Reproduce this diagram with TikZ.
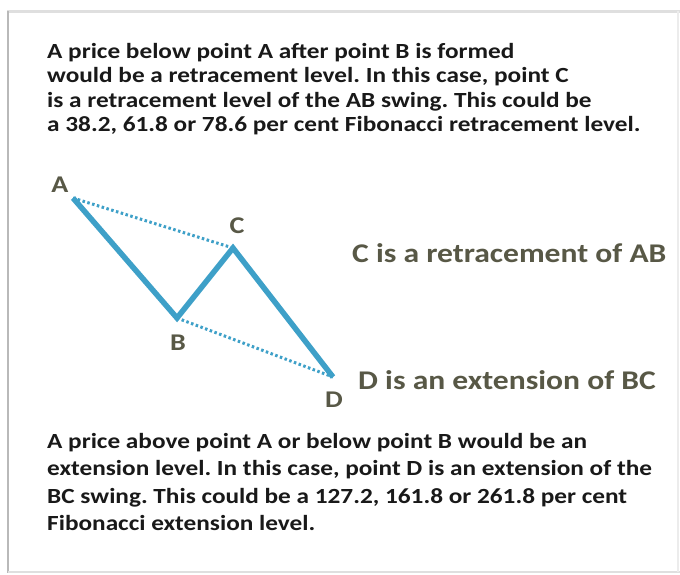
\documentclass[tikz,border=0pt]{standalone}
\usepackage{fontspec}
\setmainfont{Carlito}[FakeStretch=1.17]
\frenchspacing
\definecolor{swing}{RGB}{62,160,200}
\definecolor{olive}{RGB}{88,88,70}
\definecolor{ink}{RGB}{25,25,25}
\tikzset{
  para/.style={anchor=base west, inner sep=0pt, text=ink, font=\bfseries\fontsize{21.6}{24.5}\selectfont},
  para2/.style={para, font=\bfseries\fontsize{21.6}{27.5}\selectfont},
  ptlabel/.style={inner sep=0pt, text=olive, font=\bfseries\fontsize{24}{26}\selectfont},
  note/.style={anchor=base west, inner sep=0pt, text=olive, font=\bfseries\fontsize{27}{30}\selectfont},
  swingline/.style={draw=swing, line width=5.5pt, line join=miter},
  dotline/.style={draw=swing, line width=3pt, dash pattern=on 2.5pt off 2.5pt}
}
\begin{document}
\begin{tikzpicture}[x=1pt,y=-1pt]
\useasboundingbox (0,0) rectangle (680,574);
\fill[white] (0,0) rectangle (680,574);
% frame
\draw[gray!25, line width=3pt] (7,11) -- (680,11);
\draw[gray!55, line width=2pt] (8,11) -- (8,573);
\draw[gray!25, line width=2pt] (8,572) -- (680,572);
\draw[gray!15, line width=2pt] (678,11) -- (678,572);

\node[para] (top) at (47,58) {\begin{tabular}[t]{@{}l@{}}A price below point A after point B is formed\\
would be a retracement level. In this case, point C\\
is a retracement level of the AB swing. This could be\\
a 38.2, 61.8 or 78.6 per cent Fibonacci retracement level.\end{tabular}};

\coordinate (pA) at (73,198);
\coordinate (pB) at (177,318);
\coordinate (pC) at (233,248);
\coordinate (pD) at (333,377);

\draw[dotline] (pA) -- (pC);
\draw[dotline] (pB) -- (pD);
\draw[swingline] (pA) -- (pB) -- (pC) -- (pD);

\node[ptlabel] (lA) at (60,185) {A};
\node[ptlabel] (lB) at (178,343) {B};
\node[ptlabel] (lC) at (237,226) {C};
\node[ptlabel] (lD) at (334,400) {D};

\node[note] (nC) at (352,262) {C is a retracement of AB};
\node[note] (nD) at (358,389) {D is an extension of BC};

\node[para2] (bot) at (47,448) {\begin{tabular}[t]{@{}l@{}}A price above point A or below point B would be an\\
extension level. In this case, point D is an extension of the\\
BC swing. This could be a 127.2, 161.8 or 261.8 per cent\\
Fibonacci extension level.\end{tabular}};
\end{tikzpicture}
\end{document}
